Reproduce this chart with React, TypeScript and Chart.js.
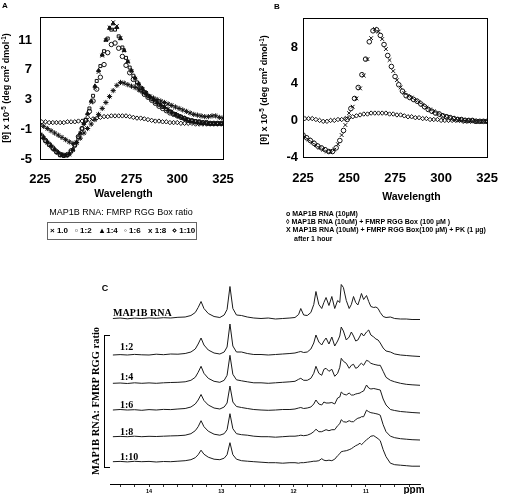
import React, { useEffect, useRef } from "react";
import { Chart, registerables } from "chart.js";

Chart.register(...registerables);

// ---------------- Panel A / B : CD spectra ----------------
// odd-nm and even-nm sampling grids (the instrument traces interleave)
const wavelengthsOdd = [
  225, 227, 229, 231, 233, 235, 237, 239, 241, 243,
  245, 247, 249, 251, 253, 255, 257, 259, 261, 263,
  265, 267, 269, 271, 273, 275, 277, 279, 281, 283,
  285, 287, 289, 291, 293, 295, 297, 299, 301, 303,
  305, 307, 309, 311, 313, 315, 317, 319, 321, 323,
  325,
];
const wavelengthsEven = [
  226, 228, 230, 232, 234, 236, 238, 240, 242, 244,
  246, 248, 250, 252, 254, 256, 258, 260, 262, 264,
  266, 268, 270, 272, 274, 276, 278, 280, 282, 284,
  286, 288, 290, 292, 294, 296, 298, 300, 302, 304,
  306, 308, 310, 312, 314, 316, 318, 320, 322, 324,
];
const xTicksNm = [225, 250, 275, 300, 325];
const yTicksA = [-5, -1, 3, 7, 11];
const yTicksB = [-4, 0, 4, 8];

const ratioLabels = ["1.0", "1:2", "1:4", "1:6", "1:8", "1:10"];
const ratioSymbols = ["×", "▫", "▴", "◦", "x", "⋄"];

// odd grid
const cdRatio1_0 = [
  -1.7, -2.2, -2.8, -3.3, -3.8, -4.2, -4.5, -4.6, -4.4, -3.8,
  -2.8, -1.6, -0.4, 0.9, 2.6, 4.6, 6.7, 8.9, 11.0, 12.7,
  13.4, 12.9, 11.3, 9.6, 8.1, 6.8, 5.8, 5.0, 4.4, 3.9,
  3.4, 3.0, 2.6, 2.3, 2.0, 1.7, 1.4, 1.1, 0.8, 0.6,
  0.4, 0.2, 0.1, 0.0, -0.1, -0.2, -0.2, -0.3, -0.3, -0.3,
  -0.3,
];
// even grid
const cdRatio1_2 = [
  -2.0, -2.6, -3.1, -3.6, -4.1, -4.5, -4.6, -4.5, -4.0, -3.2,
  -2.1, -0.9, 0.3, 1.8, 3.5, 5.5, 7.5, 9.5, 11.2, 12.4,
  12.4, 11.5, 10.0, 8.6, 7.3, 6.2, 5.3, 4.6, 4.0, 3.5,
  3.1, 2.7, 2.3, 2.0, 1.7, 1.4, 1.1, 0.9, 0.7, 0.5,
  0.3, 0.2, 0.1, 0.0, -0.1, -0.1, -0.2, -0.2, -0.2, -0.2,
];
// odd grid
const cdRatio1_4 = [
  -1.6, -2.1, -2.7, -3.2, -3.7, -4.1, -4.4, -4.5, -4.3, -3.7,
  -2.7, -1.5, -0.2, 1.1, 2.8, 4.8, 6.9, 9.0, 11.0, 12.6,
  13.2, 12.7, 11.2, 9.6, 8.1, 6.9, 5.9, 5.1, 4.5, 3.9,
  3.4, 3.0, 2.6, 2.3, 2.0, 1.6, 1.3, 1.0, 0.7, 0.5,
  0.3, 0.1, 0.0, -0.1, -0.2, -0.2, -0.3, -0.3, -0.3, -0.3,
  -0.3,
];
// even grid
const cdRatio1_6 = [
  -1.9, -2.5, -3.0, -3.5, -4.0, -4.4, -4.5, -4.4, -3.9, -3.1,
  -2.0, -0.9, 0.2, 1.4, 2.8, 4.4, 6.0, 7.7, 9.3, 10.4,
  10.6, 9.9, 8.8, 7.6, 6.6, 5.7, 4.9, 4.3, 3.7, 3.3,
  2.9, 2.5, 2.1, 1.8, 1.5, 1.2, 1.0, 0.8, 0.6, 0.4,
  0.2, 0.1, 0.0, 0.0, -0.1, -0.1, -0.2, -0.2, -0.2, -0.2,
];
// odd grid
const cdRatio1_8 = [
  -0.4, -0.6, -0.9, -1.2, -1.5, -1.8, -2.1, -2.4, -2.7, -2.9,
  -2.8, -2.2, -1.5, -0.9, -0.3, 0.3, 1.0, 1.8, 2.6, 3.4,
  4.2, 4.9, 5.3, 5.2, 5.0, 4.8, 4.6, 4.3, 4.0, 3.7,
  3.4, 3.2, 3.0, 2.8, 2.6, 2.4, 2.2, 2.0, 1.8, 1.6,
  1.4, 1.2, 1.0, 0.9, 0.8, 0.7, 0.7, 0.8, 0.8, 0.6,
  0.5,
];
// even grid
const cdRatio1_10 = [
  0.0, 0.0, -0.1, -0.1, -0.1, -0.1, -0.1, 0.0, 0.0, 0.0,
  0.1, 0.1, 0.2, 0.3, 0.4, 0.5, 0.6, 0.7, 0.7, 0.8,
  0.8, 0.8, 0.8, 0.8, 0.7, 0.6, 0.5, 0.5, 0.4, 0.3,
  0.2, 0.1, 0.1, 0.0, 0.0, -0.1, -0.1, -0.1, -0.2, -0.2,
  -0.2, -0.2, -0.3, -0.3, -0.3, -0.3, -0.3, -0.3, -0.3, -0.3,
];

// Panel B: odd grid
const cdRnaAlone = [
  -1.6, -1.9, -2.2, -2.5, -2.8, -3.0, -3.2, -3.4, -3.4, -3.0,
  -2.2, -1.1, 0.1, 1.3, 2.4, 3.6, 5.0, 6.7, 8.6, 9.8,
  9.9, 9.3, 8.3, 7.1, 5.9, 4.8, 3.9, 3.2, 2.7, 2.5,
  2.3, 2.1, 1.8, 1.5, 1.2, 1.0, 0.8, 0.7, 0.5, 0.4,
  0.3, 0.2, 0.1, 0.1, 0.0, 0.0, 0.0, -0.1, -0.1, -0.1,
  -0.1,
];
// even grid
const cdRnaProtein = [
  0.2, 0.2, 0.2, 0.1, 0.0, -0.1, -0.1, 0.0, 0.0, 0.1,
  0.1, 0.2, 0.3, 0.4, 0.5, 0.6, 0.7, 0.7, 0.8, 0.8,
  0.8, 0.8, 0.8, 0.7, 0.7, 0.6, 0.6, 0.5, 0.4, 0.4,
  0.3, 0.3, 0.2, 0.2, 0.1, 0.1, 0.1, 0.0, 0.0, 0.0,
  0.0, 0.0, 0.0, -0.1, -0.1, -0.1, -0.1, -0.1, -0.1, -0.1,
];
// even grid
const cdRnaProteinPK = [
  -1.8, -2.1, -2.4, -2.7, -3.0, -3.2, -3.4, -3.4, -3.2, -2.6,
  -1.6, -0.5, 0.8, 1.5, 2.4, 3.5, 4.9, 6.7, 9.0, 10.0,
  9.7, 8.9, 7.8, 6.6, 5.4, 4.4, 3.6, 3.0, 2.7, 2.5,
  2.2, 2.0, 1.7, 1.4, 1.2, 1.0, 0.8, 0.6, 0.5, 0.4,
  0.3, 0.2, 0.1, 0.1, 0.0, 0.0, 0.0, -0.1, -0.1, -0.1,
];
const panelBLegend = [
  "o MAP1B RNA (10µM)",
  "◊ MAP1B RNA (10uM) + FMRP RGG Box (100 µM )",
  "X MAP1B RNA (10uM) + FMRP RGG Box(100 µM) + PK (1 µg)",
  "after 1 hour",
];

// ---------------- Panel C : 1D NMR imino spectra ----------------
const ppm = [
  14.5, 14.4, 14.3, 14.2, 14.1, 14.0, 13.9, 13.8, 13.7, 13.6,
  13.5, 13.42, 13.36, 13.32, 13.28, 13.24, 13.18, 13.1, 13.02, 12.96,
  12.92, 12.88, 12.84, 12.79, 12.72, 12.64, 12.55, 12.45, 12.35, 12.25,
  12.15, 12.05, 11.98, 11.93, 11.9, 11.86, 11.81, 11.76, 11.72, 11.69,
  11.65, 11.61, 11.58, 11.55, 11.51, 11.47, 11.43, 11.39, 11.36, 11.34,
  11.31, 11.27, 11.23, 11.2, 11.17, 11.14, 11.11, 11.08, 11.06, 11.03,
  10.99, 10.96, 10.93, 10.89, 10.86, 10.83, 10.8, 10.76, 10.72, 10.66,
  10.6, 10.52, 10.44, 10.36, 10.25,
];
const ppmTicks = [
  14.4, 14.2, 14.0, 13.8, 13.6, 13.4, 13.2, 13.0, 12.8, 12.6, 12.4,
  12.2, 12.0, 11.8, 11.6, 11.4, 11.2, 11.0, 10.8, 10.6, 10.4,
];
const nmrLabels = ["MAP1B RNA", "1:2", "1:4", "1:6", "1:8", "1:10"];
const nmrRnaAlone = [
  0.0, 0.5, -0.3, 0.4, 0.0, 0.6, 0.2, 0.8, 0.5, 1.2,
  1.5, 3.0, 6.0, 11.0, 17.0, 10.0, 5.0, 2.0, 1.0, 3.5,
  9.0, 32.0, 10.0, 3.5, 3.0, 1.5, 0.5, 0.0, 0.5, -0.5,
  0.0, 0.5, 1.0, 4.0, 10.0, 3.5, 3.0, 6.0, 14.0, 27.0,
  14.0, 10.0, 16.0, 21.0, 13.0, 22.0, 10.0, 18.0, 16.0, 34.0,
  31.0, 18.0, 10.0, 14.0, 22.0, 16.0, 13.5, 20.0, 25.0, 19.0,
  23.0, 17.0, 12.0, 11.0, 11.5, 10.0, 6.0, 2.0, 1.0, 1.5,
  0.0, -0.5, -0.5, -1.0, -1.0,
];
const nmrRatio1_2 = [
  0.0, 0.4, 0.0, 0.6, 0.2, 0.0, 0.8, 0.3, 1.0, 0.8,
  1.5, 3.0, 6.0, 11.0, 17.0, 10.0, 5.0, 2.0, 1.0, 3.0,
  8.0, 31.0, 9.0, 3.0, 3.0, 1.5, 0.5, 0.5, 0.0, 0.5,
  1.0, 1.5, 2.0, 3.0, 3.5, 2.5, 3.0, 6.0, 12.0, 20.0,
  13.0, 10.0, 14.0, 17.0, 11.0, 18.0, 9.0, 14.0, 19.0, 28.0,
  24.0, 15.0, 18.0, 23.0, 19.0, 14.0, 15.0, 19.0, 22.0, 19.0,
  23.0, 25.0, 20.0, 18.0, 16.0, 15.0, 12.0, 7.0, 4.0, 3.0,
  1.0, 0.0, -0.5, -1.0, -1.5,
];
const nmrRatio1_4 = [
  0.0, 0.3, -0.2, 0.5, 0.0, 0.4, 0.0, 0.5, 0.8, 1.0,
  1.5, 3.0, 6.0, 11.0, 17.0, 10.0, 5.0, 2.0, 1.0, 3.0,
  8.0, 28.0, 9.0, 3.5, 2.5, 1.5, 0.5, 0.5, 0.0, 0.5,
  1.0, 1.5, 2.0, 4.0, 5.0, 3.0, 3.0, 5.0, 10.0, 17.0,
  10.0, 8.0, 14.0, 15.0, 12.0, 14.0, 7.0, 10.0, 16.0, 25.0,
  22.0, 20.0, 15.0, 18.0, 19.0, 15.0, 16.0, 19.0, 20.0, 18.0,
  23.0, 22.0, 20.0, 19.0, 18.5, 18.0, 18.0, 12.0, 6.0, 3.0,
  1.5, 0.0, -1.0, -1.5, -2.0,
];
const nmrRatio1_6 = [
  0.0, 0.5, 0.0, 0.3, -0.3, 0.4, 0.0, 0.6, 0.4, 1.0,
  1.5, 3.0, 6.0, 10.0, 15.5, 9.5, 5.0, 2.0, 1.0, 3.0,
  7.0, 24.0, 8.0, 3.5, 2.5, 1.5, 0.5, 0.0, -0.3, 0.0,
  0.5, 0.5, 1.0, 2.0, 2.5, 1.5, 2.0, 3.0, 6.0, 10.0,
  6.0, 5.0, 8.0, 7.0, 7.0, 7.5, 6.0, 12.0, 13.0, 18.0,
  16.0, 15.0, 17.0, 15.0, 15.0, 16.0, 16.5, 17.0, 18.0, 19.0,
  25.0, 22.0, 21.0, 21.5, 21.0, 20.5, 20.0, 11.0, 5.0, 0.5,
  -0.5, -1.5, -2.0, -2.5, -3.0,
];
const nmrRatio1_8 = [
  0.0, 0.3, 0.0, 0.5, 0.0, 0.4, 0.2, 0.5, 0.8, 1.0,
  1.5, 3.0, 6.0, 10.0, 16.0, 10.0, 5.5, 2.5, 1.5, 3.0,
  7.0, 23.0, 8.0, 3.0, 2.0, 1.5, 0.5, 0.0, 0.0, -0.5,
  0.0, 0.5, 0.5, 1.0, 1.5, 1.0, 1.5, 3.0, 5.0, 7.5,
  5.0, 5.0, 6.0, 7.0, 6.0, 7.0, 7.0, 11.0, 13.0, 17.0,
  15.0, 14.5, 16.0, 15.0, 15.0, 17.0, 18.5, 19.0, 20.0, 20.0,
  26.5, 25.0, 24.0, 23.5, 23.0, 22.5, 21.5, 12.0, 5.0, 0.5,
  -1.0, -2.0, -2.5, -3.0, -3.3,
];
const nmrRatio1_10 = [
  0.0, 0.3, -0.2, 0.4, 0.0, 0.3, -0.3, 0.2, 0.0, 0.5,
  1.0, 2.0, 4.0, 7.0, 11.5, 7.5, 4.5, 2.5, 2.0, 3.5,
  7.0, 19.0, 7.0, 2.5, 1.0, 0.5, 0.0, -0.5, -1.0, -1.0,
  -1.5, -1.0, -1.0, -1.5, -1.0, -1.0, -0.5, 0.0, 0.5, 0.5,
  1.0, 3.0, 1.5, 1.0, 1.5, 1.0, 2.5, 6.0, 8.0, 10.0,
  10.5, 11.0, 12.0, 13.0, 14.5, 16.0, 17.0, 18.5, 17.0, 19.0,
  22.0, 23.5, 25.5, 26.0, 24.5, 23.0, 21.0, 12.0, 5.0, -1.5,
  -3.0, -3.5, -4.0, -4.5, -4.5,
];
// vertical stacking offset of each trace (same units as the intensities)
const traceOffsets = [165.5, 129, 100.7, 74, 47.3, 22.3];

// ---------------- helpers ----------------
const TICK_FONT = "'Liberation Sans Narrow', 'Arial Narrow', 'Liberation Sans', Arial, sans-serif";
const SANS = "'Liberation Sans', Arial, Helvetica, sans-serif";
const SERIF = "'Liberation Serif', 'Times New Roman', Times, serif";

const framePlugin = {
  id: "frame",
  afterDraw(chart: any) {
    const { ctx, chartArea } = chart;
    const { left, top, right, bottom } = chartArea;
    ctx.save();
    ctx.strokeStyle = "#000";
    ctx.lineWidth = 1;
    ctx.strokeRect(Math.round(left) + 0.5, Math.round(top) + 0.5, Math.round(right - left), Math.round(bottom - top));
    ctx.restore();
  },
};

function cdScales(yMin: number, yMax: number, yTicks: number[], yWidth: number, xHeight: number, yPad: number, xPad: number) {
  const font = { family: TICK_FONT, size: 13, weight: "bold" as const };
  return {
    x: {
      type: "linear" as const,
      min: 225,
      max: 325,
      afterBuildTicks: (ax: any) => {
        ax.ticks = xTicksNm.map((v) => ({ value: v }));
      },
      afterFit: (ax: any) => {
        ax.height = xHeight;
      },
      grid: { display: false, drawTicks: false },
      border: { display: false },
      ticks: { color: "#000", font, padding: xPad, maxRotation: 0, autoSkip: false },
    },
    y: {
      type: "linear" as const,
      min: yMin,
      max: yMax,
      afterBuildTicks: (ax: any) => {
        ax.ticks = yTicks.map((v) => ({ value: v }));
      },
      afterFit: (ax: any) => {
        ax.width = yWidth;
      },
      grid: { display: false, drawTicks: false },
      border: { display: false },
      ticks: { color: "#000", font, padding: yPad, autoSkip: false },
    },
  };
}

function pts(xs: number[], ys: number[], offset = 0) {
  return xs.map((x, i) => ({ x, y: ys[i] + offset }));
}

const seriesA = [
  { ys: cdRatio1_0, xs: wavelengthsOdd, pointStyle: "crossRot", filled: true, r: 2.6 },
  { ys: cdRatio1_2, xs: wavelengthsEven, pointStyle: "rect", filled: false, r: 2.1 },
  { ys: cdRatio1_4, xs: wavelengthsOdd, pointStyle: "triangle", filled: true, r: 2.3 },
  { ys: cdRatio1_6, xs: wavelengthsEven, pointStyle: "circle", filled: false, r: 2.2 },
  { ys: cdRatio1_8, xs: wavelengthsOdd, pointStyle: "star", filled: false, r: 2.6 },
  { ys: cdRatio1_10, xs: wavelengthsEven, pointStyle: "rectRot", filled: false, r: 2.2 },
];

function makeChartA() {
  return {
    type: "scatter",
    data: {
      datasets: seriesA.map((s, i) => ({
        label: ratioLabels[i],
        data: pts(s.xs, s.ys),
        pointStyle: s.pointStyle,
        pointRadius: s.r,
        borderColor: "#111",
        backgroundColor: s.filled ? "#111" : "rgba(255,255,255,0)",
        borderWidth: 1,
        showLine: false,
      })),
    },
    options: {
      animation: false,
      responsive: false,
      layout: { padding: { left: 0, right: 33, top: 17, bottom: 0 } },
      plugins: { legend: { display: false }, tooltip: { enabled: false } },
      scales: cdScales(-5, 14.1, yTicksA, 40, 46, 8, 13),
    },
    plugins: [framePlugin],
  };
}

const seriesB = [
  { ys: cdRnaAlone, xs: wavelengthsOdd, pointStyle: "circle", filled: false, r: 2.3 },
  { ys: cdRnaProtein, xs: wavelengthsEven, pointStyle: "rectRot", filled: false, r: 2.2 },
  { ys: cdRnaProteinPK, xs: wavelengthsEven, pointStyle: "crossRot", filled: true, r: 2.6 },
];

function makeChartB() {
  return {
    type: "scatter",
    data: {
      datasets: seriesB.map((s, i) => ({
        label: panelBLegend[i],
        data: pts(s.xs, s.ys),
        pointStyle: s.pointStyle,
        pointRadius: s.r,
        borderColor: "#111",
        backgroundColor: s.filled ? "#111" : "rgba(255,255,255,0)",
        borderWidth: 1,
        showLine: false,
      })),
    },
    options: {
      animation: false,
      responsive: false,
      layout: { padding: { left: 0, right: 8, top: 18, bottom: 0 } },
      plugins: { legend: { display: false }, tooltip: { enabled: false } },
      scales: cdScales(-4, 11.2, yTicksB, 47, 48, 5, 14),
    },
    plugins: [framePlugin],
  };
}

const seriesC = [nmrRnaAlone, nmrRatio1_2, nmrRatio1_4, nmrRatio1_6, nmrRatio1_8, nmrRatio1_10];

function makeChartC() {
  return {
    type: "scatter",
    data: {
      datasets: seriesC.map((s, i) => ({
        label: nmrLabels[i],
        data: pts(ppm, s, traceOffsets[i]),
        showLine: true,
        pointRadius: 0,
        borderColor: "#1a1a1a",
        borderWidth: 1,
        tension: 0,
      })),
    },
    options: {
      animation: false,
      responsive: false,
      layout: { padding: { left: 10, right: 10, top: 4, bottom: 0 } },
      plugins: { legend: { display: false }, tooltip: { enabled: false } },
      scales: {
        x: {
          type: "linear",
          reverse: true,
          min: 10.25,
          max: 14.54,
          afterBuildTicks: (ax: any) => {
            ax.ticks = ppmTicks.map((v) => ({ value: v }));
          },
          afterFit: (ax: any) => {
            ax.height = 10;
          },
          grid: { display: true, drawOnChartArea: false, drawTicks: true, tickLength: 3, color: "#000", lineWidth: 0.8 },
          border: { display: true, color: "#000", width: 1 },
          ticks: {
            color: "#000",
            font: { family: SANS, size: 5.5, weight: "bold" },
            padding: 1,
            autoSkip: false,
            maxRotation: 0,
            callback: (v: number) => (Math.abs(v - Math.round(v)) < 1e-6 ? String(Math.round(v)) : ""),
          },
        },
        y: { type: "linear", min: 0, max: 202, display: false },
      },
    },
  };
}

function ChartCanvas({ x, y, w, h, make }: { x: number; y: number; w: number; h: number; make: () => any }) {
  const ref = useRef<HTMLCanvasElement>(null);
  useEffect(() => {
    const chart = new Chart(ref.current as HTMLCanvasElement, make());
    return () => chart.destroy();
  }, []);
  return (
    <canvas
      ref={ref}
      width={w}
      height={h}
      style={{ position: "absolute", left: x, top: y, width: w, height: h }}
    />
  );
}

function Txt({
  x,
  y,
  children,
  style,
  anchor = "center",
  rotate = false,
}: {
  x: number;
  y: number;
  children: React.ReactNode;
  style?: React.CSSProperties;
  anchor?: "center" | "left";
  rotate?: boolean;
}) {
  const tx = anchor === "center" ? "-50%" : "0";
  return (
    <div
      style={{
        position: "absolute",
        left: x,
        top: y,
        transform: `translate(${tx}, -50%)${rotate ? " rotate(-90deg)" : ""}`,
        whiteSpace: "nowrap",
        lineHeight: 1,
        color: "#000",
        ...style,
      }}
    >
      {children}
    </div>
  );
}

const Sup = ({ children }: { children: React.ReactNode }) => (
  <span style={{ fontSize: "0.7em", position: "relative", top: "-0.45em" }}>{children}</span>
);

function YLabel() {
  return (
    <>
      [θ] x 10<Sup>-5</Sup> (deg cm<Sup>2</Sup> dmol<Sup>-1</Sup>)
    </>
  );
}

export default function App() {
  const legendXs = [50, 75, 100, 124, 148, 172];
  const nmrLabelPos = [
    { x: 113, y: 312.5 },
    { x: 120, y: 347 },
    { x: 120, y: 377 },
    { x: 120, y: 405 },
    { x: 120, y: 432 },
    { x: 120, y: 457 },
  ];
  const legendBY = [213, 221, 229, 238];
  return (
    <div
      style={{
        position: "absolute",
        left: 0,
        top: 0,
        width: 512,
        height: 494,
        background: "#fff",
        overflow: "hidden",
        fontFamily: SANS,
      }}
    >
      <ChartCanvas x={0} y={0} w={256} h={205} make={makeChartA} />
      <ChartCanvas x={256} y={0} w={256} h={205} make={makeChartB} />
      <ChartCanvas x={100} y={278} w={330} h={216} make={makeChartC} />

      {/* Panel A texts */}
      <Txt x={5} y={6} style={{ fontSize: 8, fontWeight: "bold" }}>A</Txt>
      <Txt x={6} y={88} rotate style={{ fontSize: 9, fontWeight: "bold" }}>
        <YLabel />
      </Txt>
      <Txt x={123.5} y={193} style={{ fontSize: 10.5, fontWeight: "bold" }}>Wavelength</Txt>
      <Txt x={121} y={212} style={{ fontSize: 9 }}>MAP1B RNA: FMRP RGG Box ratio</Txt>
      <div
        style={{
          position: "absolute",
          left: 47,
          top: 222,
          width: 150,
          height: 18,
          border: "1px solid #666",
          boxSizing: "border-box",
        }}
      />
      {ratioLabels.map((l, i) => (
        <Txt key={l} x={legendXs[i]} y={231} anchor="left" style={{ fontSize: 8, fontWeight: "bold" }}>
          {ratioSymbols[i]} {l}
        </Txt>
      ))}

      {/* Panel B texts */}
      <Txt x={277} y={7} style={{ fontSize: 8, fontWeight: "bold" }}>B</Txt>
      <Txt x={264} y={90} rotate style={{ fontSize: 9, fontWeight: "bold" }}>
        <YLabel />
      </Txt>
      <Txt x={411.5} y={195.5} style={{ fontSize: 10.5, fontWeight: "bold" }}>Wavelength</Txt>
      {panelBLegend.map((l, i) => (
        <Txt
          key={l}
          x={i === 3 ? 294 : 286}
          y={legendBY[i]}
          anchor="left"
          style={{ fontSize: 7, fontWeight: "bold" }}
        >
          {l}
        </Txt>
      ))}

      {/* Panel C texts */}
      <Txt x={105} y={288} style={{ fontSize: 9, fontWeight: "bold" }}>C</Txt>
      <Txt x={96} y={401} rotate style={{ fontSize: 10.5, fontWeight: "bold", fontFamily: SERIF }}>
        MAP1B RNA: FMRP RGG ratio
      </Txt>
      <div
        style={{
          position: "absolute",
          left: 104,
          top: 335,
          width: 6,
          height: 133,
          borderLeft: "1px solid #000",
          borderTop: "1px solid #000",
          borderBottom: "1px solid #000",
          boxSizing: "border-box",
        }}
      />
      {nmrLabels.map((l, i) => (
        <Txt
          key={l}
          x={nmrLabelPos[i].x}
          y={nmrLabelPos[i].y}
          anchor="left"
          style={{ fontSize: 10, fontWeight: "bold", fontFamily: SERIF }}
        >
          {l}
        </Txt>
      ))}
      <Txt x={414} y={490} style={{ fontSize: 10, fontWeight: "bold" }}>ppm</Txt>
    </div>
  );
}
